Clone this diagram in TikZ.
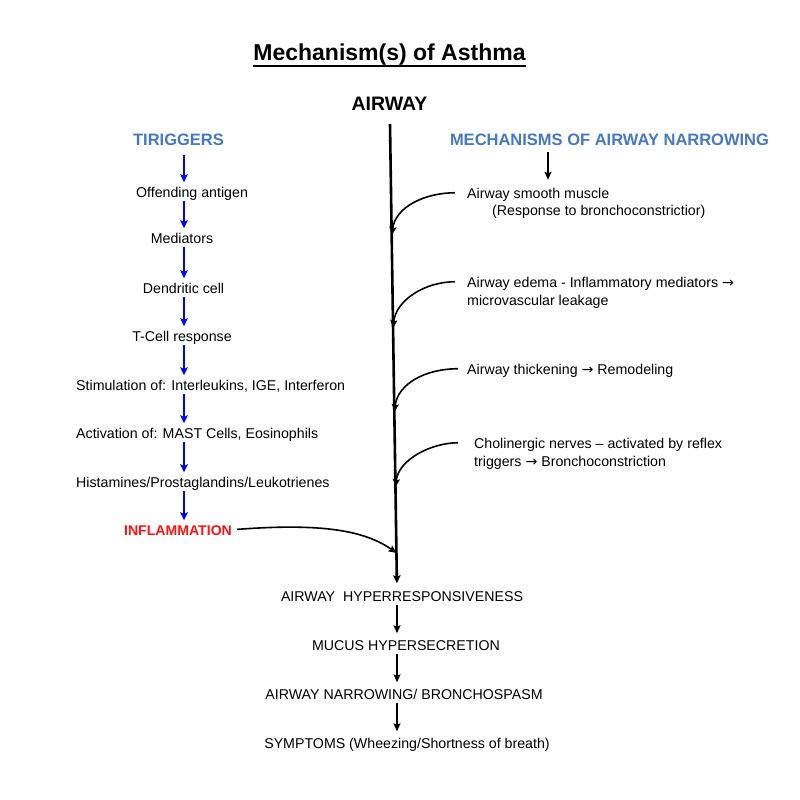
\documentclass[tikz,border=0pt]{standalone}
\usepackage{fontspec}
\setmainfont{Liberation Sans}
\newfontfamily\arrfont{DejaVu Sans}
\newcommand{\rarr}{{\arrfont →}}
\usetikzlibrary{arrows.meta}
\definecolor{headblue}{RGB}{70,120,195}
\definecolor{inflred}{RGB}{255,20,20}
\begin{document}
\begin{tikzpicture}[x=1pt,y=-1pt,
  lt/.style={font=\fontsize{14.2}{17}\selectfont, inner sep=0pt, text height=10.5pt, text depth=0pt, anchor=base},
  rt/.style={lt, anchor=base west},
  head/.style={font=\fontsize{16.5}{19}\selectfont\bfseries, text=headblue, inner sep=0pt, text height=12pt, text depth=0pt, anchor=base},
  barr/.style={blue, line width=1.5pt, -{Stealth[length=8pt,width=7.5pt,inset=1.5pt]}, shorten <=3.5pt, shorten >=4pt},
  karr/.style={black, line width=1.4pt, -{Stealth[length=8pt,width=7pt,inset=1.5pt]}},
  carr/.style={black, line width=1.6pt, -{Stealth[length=8pt,width=7pt,inset=1.5pt]}},
  mainline/.style={black, line width=2.6pt, -{Stealth[length=8pt,width=7.5pt,inset=1.5pt]}}
]
\useasboundingbox (0,0) rectangle (800,800);

% title
\node[font=\fontsize{23}{26}\selectfont\bfseries, inner sep=0pt, text depth=0pt, anchor=base] (title) at (389.5,61) {Mechanism(s) of Asthma};
\draw[line width=1.8pt] ([yshift=-5pt]title.south west) -- ([yshift=-5pt]title.south east);
\node[font=\fontsize{19.5}{23}\selectfont\bfseries, inner sep=0pt, anchor=base] (airway) at (389.5,110) {AIRWAY};

% left column
\coordinate (ax) at (184,0);
\node[head] (trig) at (178.5,145) {TIRIGGERS};
\node[lt] (off) at (192,197) {Offending antigen};
\node[lt] (med) at (182,243) {Mediators};
\node[lt] (den) at (183.5,293) {Dendritic cell};
\node[lt] (tcell) at (182,341) {T-Cell response};
\node[rt] (stim) at (76,390) {Stimulation of: Interleukins, IGE, Interferon};
\node[rt] (act) at (76,438) {Activation of: MAST Cells, Eosinophils};
\node[rt] (hist) at (76,487) {Histamines/Prostaglandins/Leukotrienes};
\node[lt, font=\fontsize{14.1}{17}\selectfont\bfseries, text=inflred] (infl) at (178,535) {INFLAMMATION};

\draw[barr, shorten <=10pt] (trig.south -| ax) -- (off.north -| ax);
\draw[barr] (off.south -| ax) -- (med.north -| ax);
\draw[barr] (med.south -| ax) -- (den.north -| ax);
\draw[barr] (den.south -| ax) -- (tcell.north -| ax);
\draw[barr] (tcell.south -| ax) -- (stim.north -| ax);
\draw[barr] (stim.south -| ax) -- (act.north -| ax);
\draw[barr] (act.south -| ax) -- (hist.north -| ax);
\draw[barr] (hist.south -| ax) -- (infl.north -| ax);

% right column
\coordinate (mx) at (548,0);
\node[head] (mech) at (609.5,145) {MECHANISMS OF AIRWAY NARROWING};
\node[rt] (asm) at (467,198) {Airway smooth muscle};
\node[rt] (resp) at (492,215) {(Response to bronchoconstrictior)};
\node[rt] (ede) at (467,287) {Airway edema - Inflammatory mediators \rarr};
\node[rt] (micro) at (467,305) {microvascular leakage};
\node[rt] (thick) at (467,374) {Airway thickening \rarr\ Remodeling};
\node[rt] (chol) at (474,448) {Cholinergic nerves – activated by reflex};
\node[rt] (trg) at (474,466) {triggers \rarr\ Bronchoconstriction};

\draw[karr, shorten <=7pt, shorten >=7.5pt] (mech.south -| mx) -- (asm.north -| mx);

% main airway line
\coordinate (mtop) at (390,124);
\coordinate (mbx) at (397,0);
\coordinate (e1) at (392,235);
\coordinate (e2) at (393,328);
\coordinate (e3) at (394.5,412);
\coordinate (e4) at (395.5,487);
\coordinate (e5) at (396.5,553);

% bottom chain
\node[lt] (ahr) at (402,601) {AIRWAY~~HYPERRESPONSIVENESS};
\node[lt] (mucus) at (406,650) {MUCUS HYPERSECRETION};
\node[lt] (narrow) at (404,699) {AIRWAY NARROWING/ BRONCHOSPASM};
\node[lt] (symp) at (407,748) {SYMPTOMS (Wheezing/Shortness of breath)};

\draw[mainline, shorten >=7pt] (mtop) -- (ahr.north -| mbx);

\draw[carr, shorten <=12pt] (asm.west) .. controls +(-42,0) and +(3,-28) .. (e1);
\draw[carr, shorten <=12pt] (ede.west) .. controls +(-42,0) and +(3,-28) .. (e2);
\draw[carr, shorten <=9pt] (thick.west) .. controls +(-42,0) and +(3,-28) .. (e3);
\draw[carr, shorten <=16pt] (chol.west) .. controls +(-42,0) and +(3,-28) .. (e4);
\draw[carr, shorten <=5pt] (infl.east) .. controls +(80,-6) and +(-35,-25) .. (e5);

\draw[karr, shorten <=3.5pt, shorten >=6pt] (ahr.south -| mbx) -- (mucus.north -| mbx);
\draw[karr, shorten <=3.5pt, shorten >=6pt] (mucus.south -| mbx) -- (narrow.north -| mbx);
\draw[karr, shorten <=3.5pt, shorten >=6pt] (narrow.south -| mbx) -- (symp.north -| mbx);
\end{tikzpicture}
\end{document}
